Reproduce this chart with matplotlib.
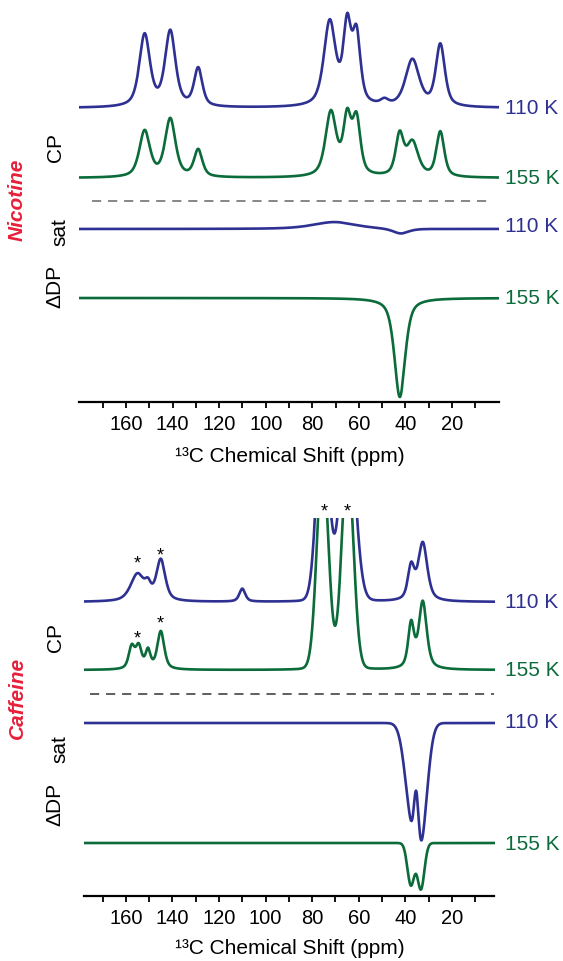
import numpy as np
import matplotlib.pyplot as plt

plt.rcParams['font.family'] = ['Liberation Sans', 'DejaVu Sans']

NAVY = '#2e3192'
GREEN = '#0b6b3a'
RED = '#e8203a'

W, H = 563, 961

ppm = np.linspace(-2, 182, 2400)

# peak lists: centre (ppm), height, fwhm (ppm)
nic_cp110_pos = [152, 141, 129, 72.5, 65, 61, 49, 37, 25]
nic_cp110_amp = [72, 75, 38, 84, 77, 68, 5, 47, 62]
nic_cp110_fw = [5.4, 5.3, 4.2, 6.0, 4.0, 4.0, 4.0, 7.0, 4.6]

nic_cp155_pos = [152, 141, 129, 72, 65, 61, 42.5, 37, 25]
nic_cp155_amp = [46, 58, 27, 64, 56, 55, 40, 34, 45]
nic_cp155_fw = [5.4, 5.3, 4.2, 5.5, 4.0, 4.0, 4.0, 6.0, 4.0]

nic_sat110_pos = [70.5, 42]
nic_sat110_amp = [7, -5]
nic_sat110_fw = [22, 8]

nic_dp155_pos = [42.4]
nic_dp155_amp = [-99]
nic_dp155_fw = [5.5]

caf_cp110_pos = [155, 150.5, 145, 110, 37.5, 32.5]
caf_cp110_amp = [27, 11, 41, 13, 33, 58]
caf_cp110_fw = [7.0, 3.0, 4.5, 3.0, 3.3, 4.6]

caf_cp155_pos = [157.5, 154.5, 150.5, 145, 37.5, 32.5]
caf_cp155_amp = [22, 22, 18, 38, 44, 67]
caf_cp155_fw = [3.0, 3.0, 2.5, 3.5, 3.0, 4.0]

# glycerol lines (off scale)
caf_gly_pos = [75.5, 64.8]
caf_gly110_amp = [195, 195]
caf_gly110_fw = [6.0, 7.4]
caf_gly155_amp = [210, 210]
caf_gly155_fw = [5.8, 5.9]

caf_sat110_pos = [37.4, 33.0, 35.3]
caf_sat110_amp = [-82, -98, 60]
caf_sat110_fw = [6.6, 6.1, 2.4]

caf_dp155_pos = [37.6, 33.3]
caf_dp155_amp = [-42, -46]
caf_dp155_fw = [3.5, 3.5]

ticks = [160, 140, 120, 100, 80, 60, 40, 20]
minor = [170, 150, 130, 110, 90, 70, 50, 30, 10]

star_ppm = [155.3, 145.4, 155.3, 145.4, 75.0, 65.1]
star_row = [559, 551, 634, 619, 507, 507]


def spectrum(pos, amp, fw, eta=0.6):
    y = np.zeros_like(ppm)
    for p, a, w in zip(pos, amp, fw):
        d = (ppm - p) / (w / 2)
        y += a * (eta / (1 + d**2) + (1 - eta) * np.exp(-np.log(2) * d**2))
    return y


def ftext(x, y, s, **kw):
    fig.text(x / W, 1 - y / H, s, **kw)


def setup(ax, xlim, ylim):
    ax.set_xlim(*xlim)
    ax.set_ylim(*ylim)
    for s in ['top', 'left', 'right']:
        ax.spines[s].set_visible(False)
    ax.spines['bottom'].set_linewidth(1.6)
    ax.set_yticks([])
    ax.set_xticks(ticks)
    ax.set_xticks(minor, minor=True)
    ax.tick_params(axis='x', which='both', direction='out', length=4.5,
                   width=1.3, labelsize=14.5, pad=4.5)
    ax.patch.set_alpha(0)


fig = plt.figure(figsize=(W / 100, H / 100), dpi=100)
LW = 1.9

# ---- nicotine (y axis in pixel rows, downward)
ax1 = fig.add_axes([79 / W, 1 - 402 / H, 420 / W, 402 / H])
setup(ax1, (180.2, -0.2), (402, 0))
ax1.plot(ppm, 108 - spectrum(nic_cp110_pos, nic_cp110_amp, nic_cp110_fw), color=NAVY, lw=LW)
ax1.plot(ppm, 178 - spectrum(nic_cp155_pos, nic_cp155_amp, nic_cp155_fw), color=GREEN, lw=LW)
ax1.plot(ppm, 229 - spectrum(nic_sat110_pos, nic_sat110_amp, nic_sat110_fw), color=NAVY, lw=LW)
ax1.plot(ppm, 298 - spectrum(nic_dp155_pos, nic_dp155_amp, nic_dp155_fw), color=GREEN, lw=LW)
ax1.plot([174.6, 5.0], [201, 201], color='#666666', lw=1.1, dashes=(6, 4.5))

# ---- caffeine
ax2 = fig.add_axes([83.5 / W, 1 - 896 / H, 411 / W, (896 - 518) / H])
setup(ax2, (178.2, 1.7), (896, 518))
cp110 = spectrum(caf_cp110_pos, caf_cp110_amp, caf_cp110_fw) + spectrum(caf_gly_pos, caf_gly110_amp, caf_gly110_fw, eta=0.05)
cp155 = spectrum(caf_cp155_pos, caf_cp155_amp, caf_cp155_fw) + spectrum(caf_gly_pos, caf_gly155_amp, caf_gly155_fw, eta=0.05)
ax2.plot(ppm, 602 - cp110, color=NAVY, lw=LW)
ax2.plot(ppm, 670 - cp155, color=GREEN, lw=LW)
ax2.plot(ppm, 723 - spectrum(caf_sat110_pos, caf_sat110_amp, caf_sat110_fw, eta=0.0), color=NAVY, lw=LW)
ax2.plot(ppm, 843 - spectrum(caf_dp155_pos, caf_dp155_amp, caf_dp155_fw, eta=0.0), color=GREEN, lw=LW)
ax2.plot([175.2, 1.7], [694, 694], color='#333333', lw=1.1, dashes=(6, 4.5))

for sx, sy in zip(star_ppm, star_row):
    ax2.text(sx, sy + 9, '*', ha='center', va='baseline', fontsize=13, clip_on=False)

# temperature labels
for y, s, c in [(109, '110 K', NAVY), (178, '155 K', GREEN), (227, '110 K', NAVY), (298, '155 K', GREEN),
                (603, '110 K', NAVY), (671, '155 K', GREEN), (723, '110 K', NAVY), (845, '155 K', GREEN)]:
    ftext(505, y, s, color=c, fontsize=15, ha='left', va='center')

# left labels
for y_cp, y_sat, y_dp in [(148, 232, 286), (638, 749, 804)]:
    ftext(55, y_cp, 'CP', rotation=90, fontsize=15, ha='center', va='center')
    ftext(60, y_sat, 'sat', rotation=90, fontsize=15, ha='center', va='center')
    ftext(55, y_dp, 'ΔDP', rotation=90, fontsize=15, ha='center', va='center')
for y, s in [(200, 'Nicotine'), (698, 'Caffeine')]:
    ftext(17, y, s, rotation=90, fontsize=15, ha='center', va='center',
          color=RED, fontweight='bold', fontstyle='italic')

ftext(290, 457, '¹³C Chemical Shift (ppm)', fontsize=15, ha='center', va='center')
ftext(290, 949, '¹³C Chemical Shift (ppm)', fontsize=15, ha='center', va='center')

fig.savefig('out.png', dpi=100)
